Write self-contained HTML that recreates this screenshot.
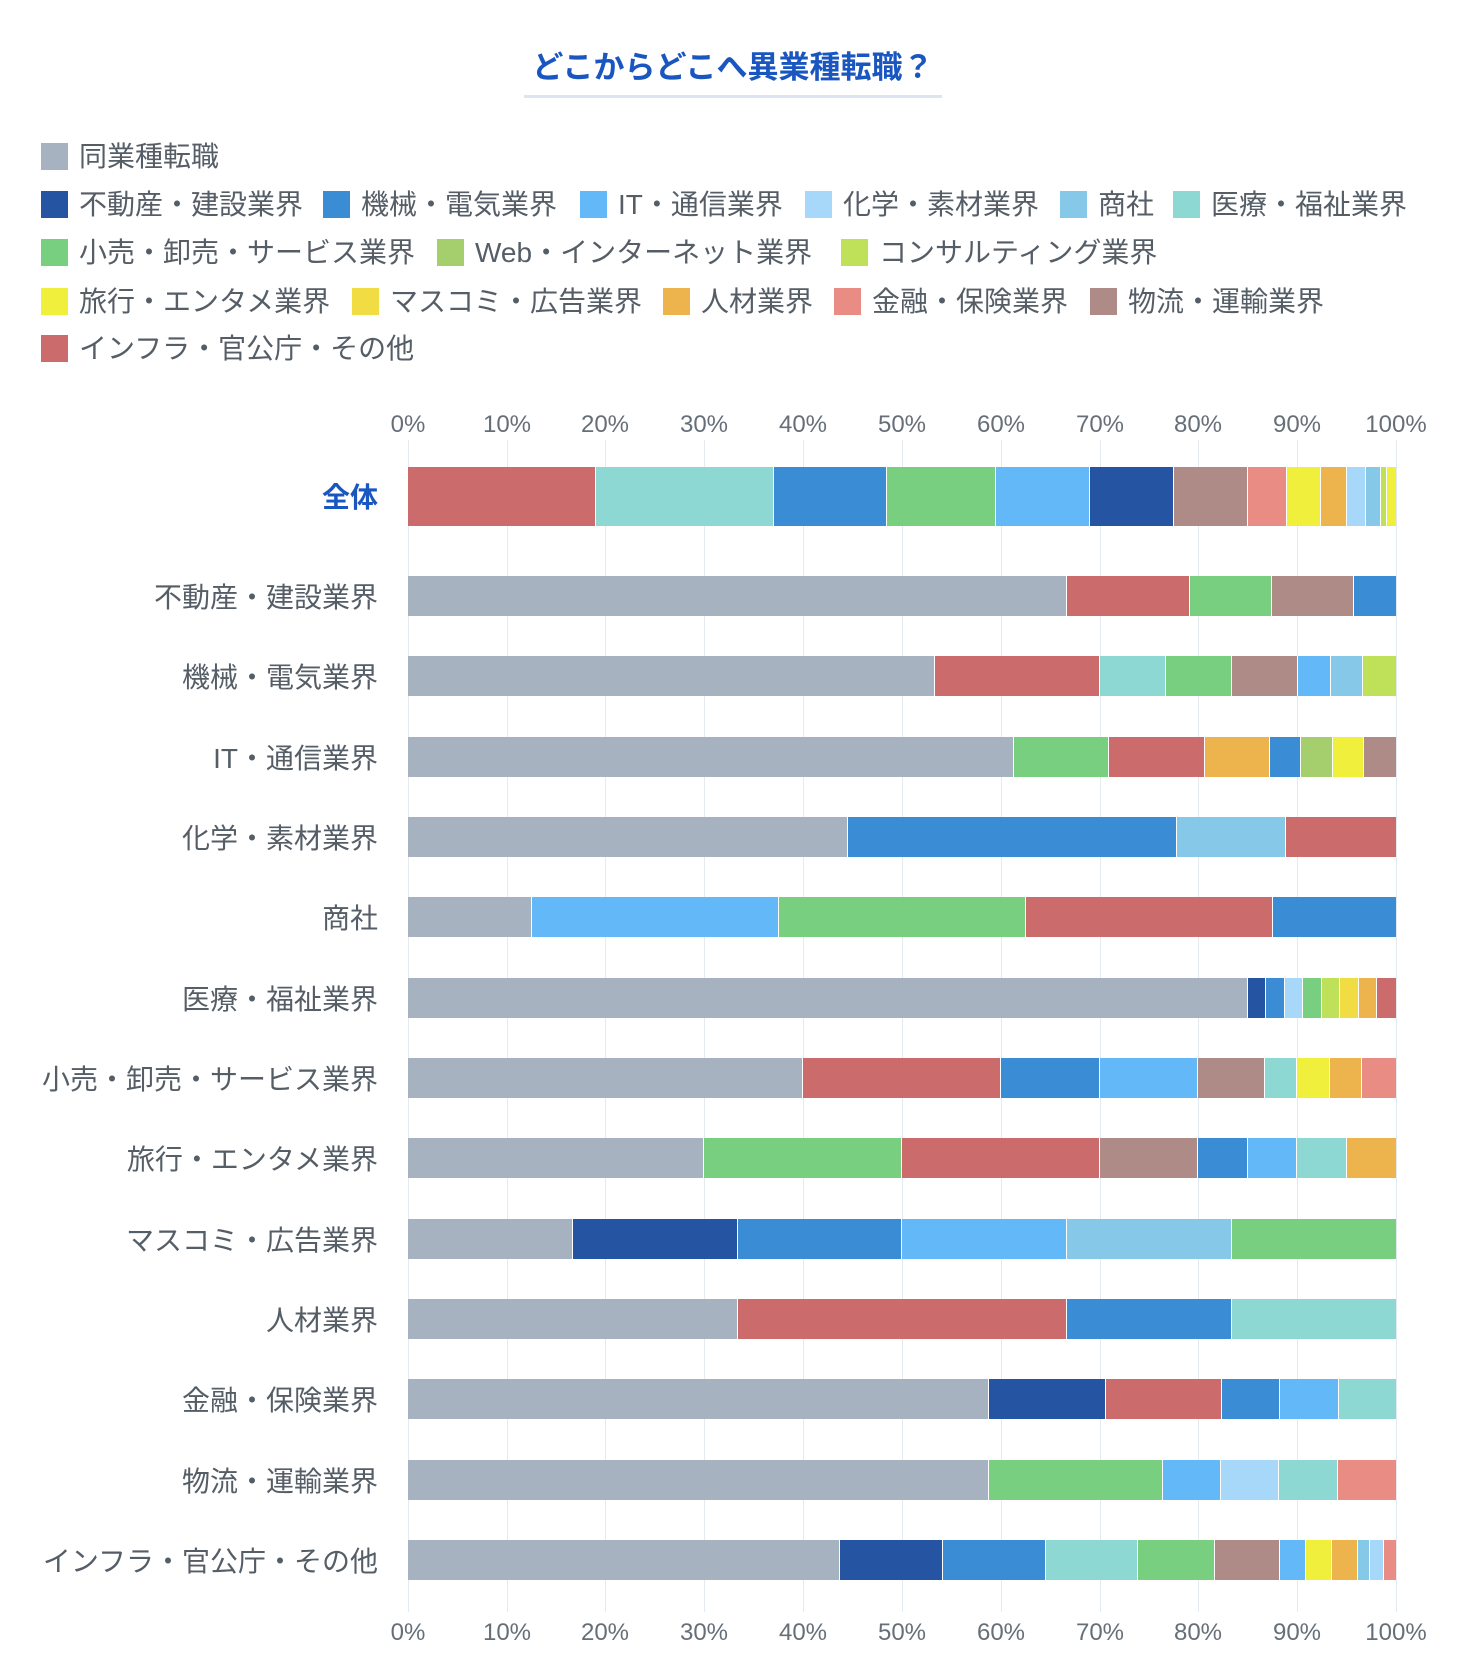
<!DOCTYPE html>
<html><head><meta charset="utf-8"><style>
body{margin:0;width:1460px;height:1676px;background:#fff;font-family:"Liberation Sans","Noto Sans CJK JP",sans-serif;position:relative;overflow:hidden}
.t{position:absolute;left:524px;width:418px;top:42px;text-align:center;font-size:31px;font-weight:bold;color:#1a56c0;border-bottom:3px solid #dde4ef;padding-bottom:8px;white-space:nowrap}
.lg{position:absolute;font-size:28px;color:#555d66;white-space:nowrap;line-height:30px}
.lg i{display:inline-block;width:27px;height:27px;vertical-align:-4px;margin-right:11px}
.ax{position:absolute;font-size:24px;color:#666f78;transform:translateX(-50%)}
.gl{position:absolute;top:440px;height:1172px;width:1px;background:#e3eaf2}
.cat{position:absolute;right:1082px;font-size:28px;color:#555d66;white-space:nowrap;transform:translateY(-50%)}
.bar{position:absolute;left:408px;width:988px;display:flex}
.bar b{display:block;height:100%;border-right:1px solid #fff;box-sizing:border-box}
.bar b:last-child{border-right:0}
.g{background:#a6b2bf}.db{background:#2554a3}.bl{background:#3a8dd4}.it{background:#63b9f8}.ch{background:#a7d8fa}.sh{background:#86c8e8}.md{background:#8dd8d3}.rt{background:#78cf7f}.wb{background:#a5cf6c}.cs{background:#bfe15a}.tr{background:#f0f03c}.mc{background:#f2dc44}.jz{background:#edb34c}.fn{background:#e98d84}.lo{background:#ae8b87}.in{background:#cb6b6b}
</style></head><body>
<div class="t">どこからどこへ異業種転職？</div>
<div class="lg" style="left:41px;top:142px"><i class="g"></i>同業種転職</div>
<div class="lg" style="left:41px;top:190px"><i class="db"></i>不動産・建設業界</div>
<div class="lg" style="left:323px;top:190px"><i class="bl"></i>機械・電気業界</div>
<div class="lg" style="left:580px;top:190px"><i class="it"></i>IT・通信業界</div>
<div class="lg" style="left:805px;top:190px"><i class="ch"></i>化学・素材業界</div>
<div class="lg" style="left:1060px;top:190px"><i class="sh"></i>商社</div>
<div class="lg" style="left:1173px;top:190px"><i class="md"></i>医療・福祉業界</div>
<div class="lg" style="left:41px;top:238px"><i class="rt"></i>小売・卸売・サービス業界</div>
<div class="lg" style="left:437px;top:238px"><i class="wb"></i>Web・インターネット業界</div>
<div class="lg" style="left:841px;top:238px"><i class="cs"></i>コンサルティング業界</div>
<div class="lg" style="left:41px;top:287px"><i class="tr"></i>旅行・エンタメ業界</div>
<div class="lg" style="left:352px;top:287px"><i class="mc"></i>マスコミ・広告業界</div>
<div class="lg" style="left:663px;top:287px"><i class="jz"></i>人材業界</div>
<div class="lg" style="left:834px;top:287px"><i class="fn"></i>金融・保険業界</div>
<div class="lg" style="left:1090px;top:287px"><i class="lo"></i>物流・運輸業界</div>
<div class="lg" style="left:41px;top:334px"><i class="in"></i>インフラ・官公庁・その他</div>

<div class="gl" style="left:408px"></div><div class="gl" style="left:507px"></div><div class="gl" style="left:605px"></div><div class="gl" style="left:704px"></div><div class="gl" style="left:803px"></div><div class="gl" style="left:902px"></div><div class="gl" style="left:1001px"></div><div class="gl" style="left:1100px"></div><div class="gl" style="left:1198px"></div><div class="gl" style="left:1297px"></div><div class="gl" style="left:1396px"></div>

<div class="ax" style="left:408px;top:411px">0%</div><div class="ax" style="left:507px;top:411px">10%</div><div class="ax" style="left:605px;top:411px">20%</div><div class="ax" style="left:704px;top:411px">30%</div><div class="ax" style="left:803px;top:411px">40%</div><div class="ax" style="left:902px;top:411px">50%</div><div class="ax" style="left:1001px;top:411px">60%</div><div class="ax" style="left:1100px;top:411px">70%</div><div class="ax" style="left:1198px;top:411px">80%</div><div class="ax" style="left:1297px;top:411px">90%</div><div class="ax" style="left:1396px;top:411px">100%</div>
<div class="ax" style="left:408px;top:1619px">0%</div><div class="ax" style="left:507px;top:1619px">10%</div><div class="ax" style="left:605px;top:1619px">20%</div><div class="ax" style="left:704px;top:1619px">30%</div><div class="ax" style="left:803px;top:1619px">40%</div><div class="ax" style="left:902px;top:1619px">50%</div><div class="ax" style="left:1001px;top:1619px">60%</div><div class="ax" style="left:1100px;top:1619px">70%</div><div class="ax" style="left:1198px;top:1619px">80%</div><div class="ax" style="left:1297px;top:1619px">90%</div><div class="ax" style="left:1396px;top:1619px">100%</div>

<div class="cat" style="top:496px;color:#1a56c0;font-weight:bold">全体</div>
<div class="cat" style="top:596px">不動産・建設業界</div>
<div class="cat" style="top:676px">機械・電気業界</div>
<div class="cat" style="top:757px">IT・通信業界</div>
<div class="cat" style="top:837px">化学・素材業界</div>
<div class="cat" style="top:917px">商社</div>
<div class="cat" style="top:998px">医療・福祉業界</div>
<div class="cat" style="top:1078px">小売・卸売・サービス業界</div>
<div class="cat" style="top:1158px">旅行・エンタメ業界</div>
<div class="cat" style="top:1239px">マスコミ・広告業界</div>
<div class="cat" style="top:1319px">人材業界</div>
<div class="cat" style="top:1399px">金融・保険業界</div>
<div class="cat" style="top:1480px">物流・運輸業界</div>
<div class="cat" style="top:1560px">インフラ・官公庁・その他</div>

<div class="bar" style="top:467px;height:59px"><b class="in" style="width:19%"></b><b class="md" style="width:18%"></b><b class="bl" style="width:11.5%"></b><b class="rt" style="width:11%"></b><b class="it" style="width:9.5%"></b><b class="db" style="width:8.5%"></b><b class="lo" style="width:7.5%"></b><b class="fn" style="width:4%"></b><b class="tr" style="width:3.4%"></b><b class="jz" style="width:2.6%"></b><b class="ch" style="width:2%"></b><b class="sh" style="width:1.5%"></b><b class="cs" style="width:0.6%"></b><b class="tr" style="width:0.9%"></b></div>
<div class="bar" style="top:576px;height:40px"><b class="g" style="width:66.7%"></b><b class="in" style="width:12.5%"></b><b class="rt" style="width:8.3%"></b><b class="lo" style="width:8.3%"></b><b class="bl" style="width:4.2%"></b></div>
<div class="bar" style="top:656px;height:40px"><b class="g" style="width:53.3%"></b><b class="in" style="width:16.7%"></b><b class="md" style="width:6.7%"></b><b class="rt" style="width:6.7%"></b><b class="lo" style="width:6.7%"></b><b class="it" style="width:3.3%"></b><b class="sh" style="width:3.3%"></b><b class="cs" style="width:3.3%"></b></div>
<div class="bar" style="top:737px;height:40px"><b class="g" style="width:61.3%"></b><b class="rt" style="width:9.7%"></b><b class="in" style="width:9.7%"></b><b class="jz" style="width:6.5%"></b><b class="bl" style="width:3.2%"></b><b class="wb" style="width:3.2%"></b><b class="tr" style="width:3.2%"></b><b class="lo" style="width:3.2%"></b></div>
<div class="bar" style="top:817px;height:40px"><b class="g" style="width:44.5%"></b><b class="bl" style="width:33.3%"></b><b class="sh" style="width:11.1%"></b><b class="in" style="width:11.1%"></b></div>
<div class="bar" style="top:897px;height:40px"><b class="g" style="width:12.5%"></b><b class="it" style="width:25%"></b><b class="rt" style="width:25%"></b><b class="in" style="width:25%"></b><b class="bl" style="width:12.5%"></b></div>
<div class="bar" style="top:978px;height:40px"><b class="g" style="width:85%"></b><b class="db" style="width:1.875%"></b><b class="bl" style="width:1.875%"></b><b class="ch" style="width:1.875%"></b><b class="rt" style="width:1.875%"></b><b class="cs" style="width:1.875%"></b><b class="mc" style="width:1.875%"></b><b class="jz" style="width:1.875%"></b><b class="in" style="width:1.875%"></b></div>
<div class="bar" style="top:1058px;height:40px"><b class="g" style="width:40%"></b><b class="in" style="width:20%"></b><b class="bl" style="width:10%"></b><b class="it" style="width:10%"></b><b class="lo" style="width:6.7%"></b><b class="md" style="width:3.3%"></b><b class="tr" style="width:3.3%"></b><b class="jz" style="width:3.3%"></b><b class="fn" style="width:3.4%"></b></div>
<div class="bar" style="top:1138px;height:40px"><b class="g" style="width:30%"></b><b class="rt" style="width:20%"></b><b class="in" style="width:20%"></b><b class="lo" style="width:10%"></b><b class="bl" style="width:5%"></b><b class="it" style="width:5%"></b><b class="md" style="width:5%"></b><b class="jz" style="width:5%"></b></div>
<div class="bar" style="top:1219px;height:40px"><b class="g" style="width:16.7%"></b><b class="db" style="width:16.7%"></b><b class="bl" style="width:16.6%"></b><b class="it" style="width:16.7%"></b><b class="sh" style="width:16.7%"></b><b class="rt" style="width:16.6%"></b></div>
<div class="bar" style="top:1299px;height:40px"><b class="g" style="width:33.4%"></b><b class="in" style="width:33.3%"></b><b class="bl" style="width:16.7%"></b><b class="md" style="width:16.6%"></b></div>
<div class="bar" style="top:1379px;height:40px"><b class="g" style="width:58.8%"></b><b class="db" style="width:11.8%"></b><b class="in" style="width:11.8%"></b><b class="bl" style="width:5.9%"></b><b class="it" style="width:5.9%"></b><b class="md" style="width:5.8%"></b></div>
<div class="bar" style="top:1460px;height:40px"><b class="g" style="width:58.8%"></b><b class="rt" style="width:17.6%"></b><b class="it" style="width:5.9%"></b><b class="ch" style="width:5.9%"></b><b class="md" style="width:5.9%"></b><b class="fn" style="width:5.9%"></b></div>
<div class="bar" style="top:1540px;height:40px"><b class="g" style="width:43.7%"></b><b class="db" style="width:10.4%"></b><b class="bl" style="width:10.5%"></b><b class="md" style="width:9.3%"></b><b class="rt" style="width:7.8%"></b><b class="lo" style="width:6.6%"></b><b class="it" style="width:2.6%"></b><b class="tr" style="width:2.6%"></b><b class="jz" style="width:2.7%"></b><b class="sh" style="width:1.2%"></b><b class="ch" style="width:1.4%"></b><b class="fn" style="width:1.2%"></b></div>
</body></html>
